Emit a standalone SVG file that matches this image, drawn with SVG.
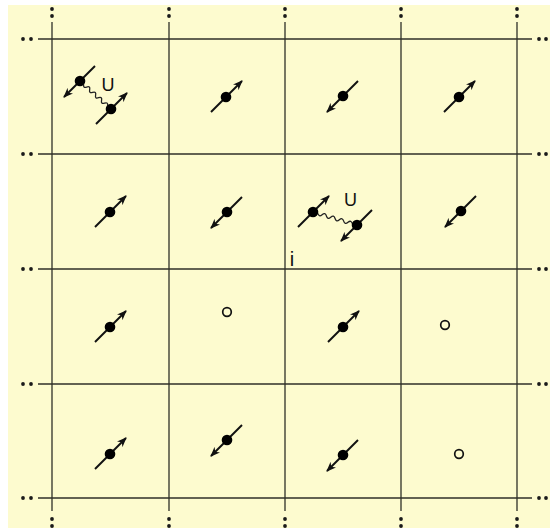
<svg xmlns="http://www.w3.org/2000/svg" width="550" height="528" viewBox="0 0 550 528">
<defs>
<style>
.grid line{stroke:#2f2f28;stroke-width:1.3}
.ed circle{fill:#1a1a1a}
.hole{fill:none;stroke:#111;stroke-width:1.7}
.wave{fill:none;stroke:#222;stroke-width:1.3}
text{font-family:"Liberation Sans",Arial,sans-serif;fill:#111}
</style>
<marker id="ah" viewBox="0 0 10 8" refX="9" refY="4" markerWidth="10" markerHeight="8" markerUnits="userSpaceOnUse" orient="auto">
<path d="M0,0 L10,4 L0,8 L3,4 Z" fill="#111"/>
</marker>
<g id="up"><line x1="-15" y1="15" x2="16" y2="-16" stroke="#111" stroke-width="1.9" marker-end="url(#ah)"/><circle r="5.3" fill="#000"/></g>
<g id="dn"><line x1="15" y1="-15" x2="-16" y2="16" stroke="#111" stroke-width="1.9" marker-end="url(#ah)"/><circle r="5.3" fill="#000"/></g>
</defs>
<rect x="0" y="0" width="550" height="528" fill="#ffffff"/>
<rect x="8" y="5" width="542" height="523" fill="#fdfbcf"/>
<g class="grid">
<line x1="38" y1="39" x2="532" y2="39"/>
<line x1="38" y1="154" x2="532" y2="154"/>
<line x1="38" y1="269" x2="532" y2="269"/>
<line x1="38" y1="384" x2="532" y2="384"/>
<line x1="38" y1="498" x2="532" y2="498"/>
<line x1="52" y1="22" x2="52" y2="511"/>
<line x1="169" y1="22" x2="169" y2="511"/>
<line x1="285" y1="22" x2="285" y2="511"/>
<line x1="401" y1="22" x2="401" y2="511"/>
<line x1="517" y1="22" x2="517" y2="511"/>
</g>
<g class="ed">
<circle cx="52" cy="9" r="1.9"/><circle cx="52" cy="16" r="1.9"/>
<circle cx="169" cy="9" r="1.9"/><circle cx="169" cy="16" r="1.9"/>
<circle cx="285" cy="9" r="1.9"/><circle cx="285" cy="16" r="1.9"/>
<circle cx="401" cy="9" r="1.9"/><circle cx="401" cy="16" r="1.9"/>
<circle cx="517" cy="9" r="1.9"/><circle cx="517" cy="16" r="1.9"/>
<circle cx="52" cy="519" r="1.9"/><circle cx="52" cy="526" r="1.9"/>
<circle cx="169" cy="519" r="1.9"/><circle cx="169" cy="526" r="1.9"/>
<circle cx="285" cy="519" r="1.9"/><circle cx="285" cy="526" r="1.9"/>
<circle cx="401" cy="519" r="1.9"/><circle cx="401" cy="526" r="1.9"/>
<circle cx="517" cy="519" r="1.9"/><circle cx="517" cy="526" r="1.9"/>
<circle cx="23" cy="39" r="1.9"/><circle cx="31" cy="39" r="1.9"/>
<circle cx="23" cy="154" r="1.9"/><circle cx="31" cy="154" r="1.9"/>
<circle cx="23" cy="269" r="1.9"/><circle cx="31" cy="269" r="1.9"/>
<circle cx="23" cy="384" r="1.9"/><circle cx="31" cy="384" r="1.9"/>
<circle cx="23" cy="498" r="1.9"/><circle cx="31" cy="498" r="1.9"/>
<circle cx="539" cy="39" r="1.9"/><circle cx="546" cy="39" r="1.9"/>
<circle cx="539" cy="154" r="1.9"/><circle cx="546" cy="154" r="1.9"/>
<circle cx="539" cy="269" r="1.9"/><circle cx="546" cy="269" r="1.9"/>
<circle cx="539" cy="384" r="1.9"/><circle cx="546" cy="384" r="1.9"/>
<circle cx="539" cy="498" r="1.9"/><circle cx="546" cy="498" r="1.9"/>
</g>
<g id="connectors">
<path class="wave" transform="translate(80,81) rotate(42)" d="M5,0 q2,3.5 4,0 t4,0 t4,0 t4,0 t4,0 t4,0 t4,0 t4,0"/>
<path class="wave" transform="translate(313,212) rotate(16.5)" d="M5,0 q2.25,3.5 4.5,0 t4.5,0 t4.5,0 t4.5,0 t4.5,0 t4.5,0 t4.5,0 t4.5,0"/>
</g>
<g id="n-r0c0"><use href="#dn" x="80" y="81"/><use href="#up" x="111" y="109"/><text x="108" y="91" font-size="18" text-anchor="middle">U</text></g>
<g id="n-r0c1"><use href="#up" x="226" y="97"/></g>
<g id="n-r0c2"><use href="#dn" x="343" y="96"/></g>
<g id="n-r0c3"><use href="#up" x="459" y="97"/></g>
<g id="n-r1c0"><use href="#up" x="110" y="212"/></g>
<g id="n-r1c1"><use href="#dn" x="227" y="212"/></g>
<g id="n-r1c2"><use href="#up" x="313" y="212"/><use href="#dn" x="357" y="225"/><text x="350.5" y="206" font-size="18" text-anchor="middle">U</text></g>
<g id="n-r1c3"><use href="#dn" x="461" y="211"/></g>
<g id="n-i"><text x="292" y="266" font-size="20" text-anchor="middle">i</text></g>
<g id="n-r2c0"><use href="#up" x="110" y="327"/></g>
<g id="n-r2c1"><circle class="hole" cx="227" cy="312" r="4.3"/></g>
<g id="n-r2c2"><use href="#up" x="343" y="327"/></g>
<g id="n-r2c3"><circle class="hole" cx="445" cy="325" r="4.3"/></g>
<g id="n-r3c0"><use href="#up" x="110" y="454"/></g>
<g id="n-r3c1"><use href="#dn" x="227" y="440"/></g>
<g id="n-r3c2"><use href="#dn" x="343" y="455"/></g>
<g id="n-r3c3"><circle class="hole" cx="459" cy="454" r="4.3"/></g>
</svg>
